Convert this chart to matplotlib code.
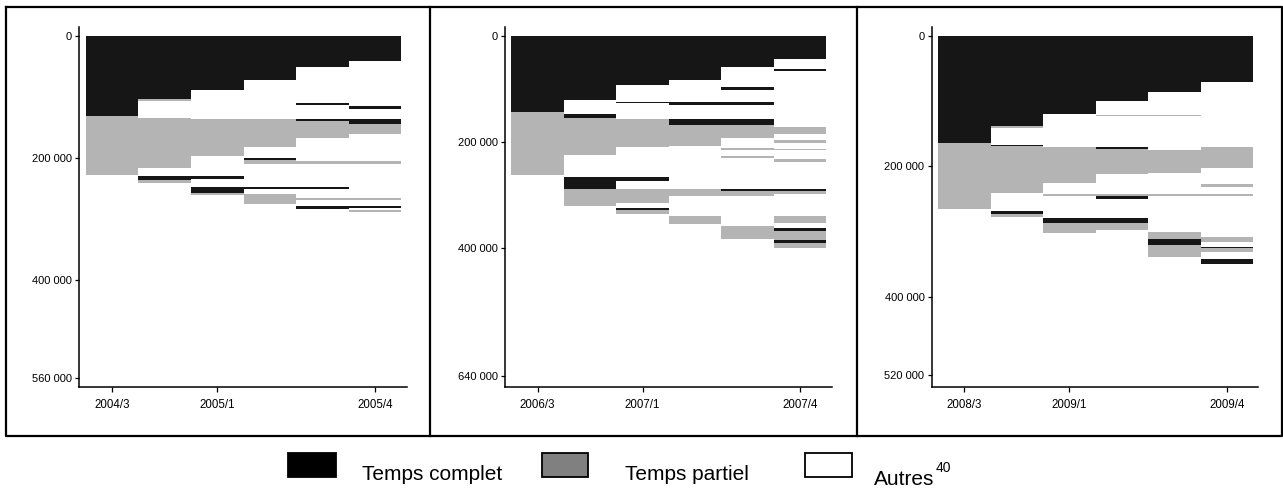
import matplotlib
matplotlib.use("Agg")
import matplotlib.pyplot as plt
from matplotlib.patches import Rectangle

# ---------------- data ----------------
# Each column = one quarter; each segment = (category, cumulative end, in thousands)
# C = Temps complet, P = Temps partiel, A = Autres
P1_QUARTERS = ["2004/3", "2004/4", "2005/1", "2005/2", "2005/3", "2005/4"]
P1_COLUMNS = [
    [("C", 132), ("P", 227)],
    [("C", 103), ("P", 106), ("A", 134), ("P", 216), ("A", 229.5), ("C", 236.6), ("P", 240)],
    [("C", 88.5), ("A", 136), ("P", 197), ("A", 229.5), ("C", 233.5), ("A", 246.5), ("C", 257), ("P", 260)],
    [("C", 72), ("A", 136), ("P", 181.5), ("A", 199.5), ("C", 203), ("P", 210), ("A", 246.5), ("C", 251),
     ("A", 258.5), ("P", 275)],
    [("C", 51.3), ("A", 110), ("C", 113), ("A", 136.5), ("C", 139), ("P", 168), ("A", 205), ("P", 209),
     ("A", 246.5), ("C", 251), ("A", 265), ("P", 268), ("A", 277.7), ("C", 283)],
    [("C", 42), ("A", 114.8), ("C", 119), ("A", 136.5), ("C", 144.3), ("P", 160.7), ("A", 205), ("P", 209),
     ("A", 265), ("P", 268.5), ("A", 277.7), ("C", 281), ("A", 284.7), ("P", 288)],
]
P1_YTICKS = [0, 200000, 400000, 560000]
P1_YTICKLABELS = ["0", "200 000", "400 000", "560 000"]

P2_QUARTERS = ["2006/3", "2006/4", "2007/1", "2007/2", "2007/3", "2007/4"]
P2_COLUMNS = [
    [("C", 143.5), ("P", 262)],
    [("C", 121.5), ("A", 146.7), ("C", 154.8), ("P", 223.8), ("A", 266.4), ("C", 288.4), ("P", 320.3)],
    [("C", 93.3), ("A", 124.1), ("C", 127.5), ("A", 156.7), ("P", 209.4), ("A", 266.4), ("C", 273.9),
     ("A", 288.4), ("P", 315.3), ("A", 324), ("C", 327.8), ("P", 335.4)],
    [("C", 83.9), ("A", 124.7), ("C", 129.8), ("A", 156.7), ("C", 168.6), ("P", 206.9), ("A", 288.4),
     ("P", 301.5), ("A", 338.6), ("P", 354.2)],
    [("C", 59.4), ("A", 96.5), ("C", 101.6), ("A", 124.7), ("C", 129.8), ("A", 156.7), ("C", 168.6),
     ("P", 192.4), ("A", 211.2), ("P", 215), ("A", 226.3), ("P", 230), ("A", 288.4), ("C", 291.6),
     ("P", 301.5), ("A", 357.4), ("P", 383)],
    [("C", 43.2), ("A", 62.6), ("C", 65.7), ("A", 171.1), ("P", 184.9), ("A", 196.8), ("P", 201.8),
     ("A", 212.5), ("P", 215.5), ("A", 232.5), ("P", 237.6), ("A", 288.4), ("C", 291.6), ("P", 298.3),
     ("A", 338.6), ("P", 352.9), ("A", 361.1), ("C", 366.8), ("P", 384.9), ("C", 390.6), ("P", 400)],
]
P2_YTICKS = [0, 200000, 400000, 640000]
P2_YTICKLABELS = ["0", "200 000", "400 000", "640 000"]

P3_QUARTERS = ["2008/3", "2008/4", "2009/1", "2009/2", "2009/3", "2009/4"]
P3_COLUMNS = [
    [("C", 164.9), ("P", 266)],
    [("C", 138.8), ("P", 141), ("A", 167), ("C", 169.4), ("P", 241.5), ("A", 268.6), ("C", 273.7), ("P", 277.2)],
    [("C", 120), ("A", 170.5), ("P", 226.1), ("A", 243), ("P", 245.6), ("A", 279.8), ("C", 287.4), ("P", 301.8)],
    [("C", 100.5), ("A", 121), ("P", 123), ("A", 170.5), ("C", 173.1), ("P", 211.9), ("A", 243), ("P", 245.6),
     ("C", 250.2), ("A", 279.8), ("C", 287.4), ("P", 297.7)],
    [("C", 86.7), ("A", 121), ("P", 123), ("A", 175.6), ("P", 210.8), ("A", 243), ("P", 245.6), ("A", 300.3),
     ("P", 312), ("C", 321.2), ("P", 338.5)],
    [("C", 71), ("A", 170.5), ("P", 202.7), ("A", 227.7), ("P", 231.3), ("A", 243), ("P", 245.6), ("A", 308),
     ("P", 316), ("A", 323.3), ("C", 325.7), ("P", 331.4), ("A", 341.6), ("C", 350.2)],
]
P3_YTICKS = [0, 200000, 400000, 520000]
P3_YTICKLABELS = ["0", "200 000", "400 000", "520 000"]

XTICK_IDX = [0, 2, 5]
LEGEND_LABELS = ["Temps complet", "Temps partiel", "Autres"]
LEGEND_NOTE = "40"

# ---------------- style ----------------
BAR_COLORS = {"C": "#161616", "P": "#b4b4b4", "A": "#ffffff"}
LEG_COLORS = ["#000000", "#808080", "#ffffff"]
TICK_FONT = ["Liberation Sans Narrow", "Liberation Sans"]
TEXT_FONT = ["Liberation Sans", "DejaVu Sans"]

W, H = 1283, 488
fig = plt.figure(figsize=(W / 100, H / 100), dpi=100)


def px_axes(x0, x1, y0, y1):
    return fig.add_axes([x0 / W, 1 - y1 / H, (x1 - x0) / W, (y1 - y0) / H])


panels = [
    (P1_QUARTERS, P1_COLUMNS, P1_YTICKS, P1_YTICKLABELS, (573700, -14700), (79.3, 406.7)),
    (P2_QUARTERS, P2_COLUMNS, P2_YTICKS, P2_YTICKLABELS, (660100, -16900), (505.0, 831.7)),
    (P3_QUARTERS, P3_COLUMNS, P3_YTICKS, P3_YTICKLABELS, (537900, -13800), (931.7, 1258.3)),
]

for quarters, columns, yt, ytl, ylim, (xa, xb) in panels:
    ax = px_axes(xa, xb, 26.7, 386.7)
    for i, col in enumerate(columns):
        start = 0.0
        for cat, end in col:
            ax.bar(i, (end - start) * 1000, bottom=start * 1000, width=1.0,
                   color=BAR_COLORS[cat], linewidth=0, antialiased=False)
            start = end
    ax.set_xlim(-0.62, 5.6)
    ax.set_ylim(*ylim)
    ax.set_yticks(yt)
    ax.set_yticklabels(ytl, family=TICK_FONT, fontsize=8)
    ax.set_xticks(XTICK_IDX)
    ax.set_xticklabels([quarters[k] for k in XTICK_IDX], family=TICK_FONT, fontsize=8.3)
    for s in ("top", "right"):
        ax.spines[s].set_visible(False)
    for s in ("left", "bottom"):
        ax.spines[s].set_linewidth(1.1)
    ax.tick_params(axis="y", length=3.2, width=0.9, pad=2)
    ax.tick_params(axis="x", length=3.6, width=0.9, pad=5.5)
    ax.patch.set_alpha(0)

# overlay: frame and legend, in pixel coordinates
ov = fig.add_axes([0, 0, 1, 1], zorder=10)
ov.set_xlim(0, W)
ov.set_ylim(H, 0)
ov.axis("off")
ov.patch.set_alpha(0)

fl = dict(color="black", lw=1.6, solid_capstyle="projecting")
ov.plot([6, 1281.5, 1281.5, 6, 6], [6.7, 6.7, 435.5, 435.5, 6.7], **fl)
ov.plot([430.3, 430.3], [6.7, 435.5], **fl)
ov.plot([856.7, 856.7], [6.7, 435.5], **fl)

rects = [(288.3, 47.4), (542.0, 46.0), (805.0, 47.0)]
text_x = [362.0, 625.0, 874.0]
text_y = [480.0, 480.0, 485.0]
for (rx, rw), c, lab, tx, ty in zip(rects, LEG_COLORS, LEGEND_LABELS, text_x, text_y):
    ov.add_patch(Rectangle((rx, 452.5), rw, 24.2, facecolor=c, edgecolor="black", linewidth=1.3))
    t = ov.text(tx, ty, lab, family=TEXT_FONT, fontsize=15, va="baseline", ha="left")
fig.canvas.draw()
bb = t.get_window_extent()
ov.text(bb.x1 + 1, 472, LEGEND_NOTE, family=TEXT_FONT, fontsize=10, va="baseline", ha="left")

fig.savefig("out.png", dpi=100)
